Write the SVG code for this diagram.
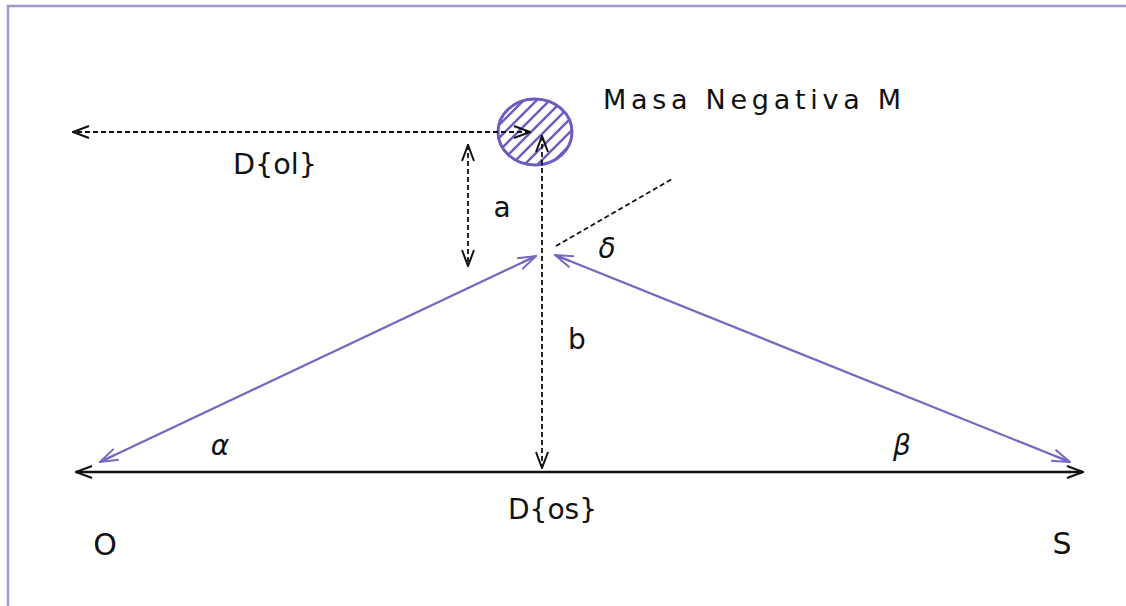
<svg xmlns="http://www.w3.org/2000/svg" width="1126" height="606" viewBox="0 0 1126 606">
  <style>
    .lbl { font-family: "DejaVu Sans", "Liberation Sans", sans-serif; fill: #111; }
    .dash { stroke: #111; stroke-width: 1.8; stroke-dasharray: 5 3; fill: none; }
    .solid { stroke: #111; stroke-width: 2.4; fill: none; }
    .purple { stroke: #7468c0; stroke-width: 2.2; fill: none; }
  </style>
  <defs>
    <marker id="ah" viewBox="0 0 18 14" refX="17" refY="7" markerWidth="18" markerHeight="14" markerUnits="userSpaceOnUse" orient="auto-start-reverse">
      <path d="M1,1 L17,7 L1,13" fill="none" stroke="#111" stroke-width="2"/>
    </marker>
    <marker id="ahp" viewBox="0 0 20 14" refX="19" refY="7" markerWidth="20" markerHeight="14" markerUnits="userSpaceOnUse" orient="auto-start-reverse">
      <path d="M1,1 L19,7 L1,13 M3,7 L19,7" fill="none" stroke="#7468c0" stroke-width="2"/>
    </marker>
    <pattern id="hatch" patternUnits="userSpaceOnUse" width="13" height="13">
      <path d="M0,13 L13,0 M-3,3 L3,-3 M10,16 L16,10" stroke="#6c5cbf" stroke-width="2.4"/>
    </pattern>
  </defs>

  <!-- frame -->
  <path d="M8,606 L8,6 L1126,6" fill="none" stroke="#9d9acb" stroke-width="2.5"/>

  <g id="mass">
    <ellipse cx="535" cy="132" rx="37" ry="33" fill="url(#hatch)" stroke="#6c5cbf" stroke-width="3"/>
    <text class="lbl" x="603" y="109" font-size="27" textLength="298" lengthAdjust="spacing">Masa Negativa M</text>
  </g>

  <g id="connectors">
    <!-- D{ol} -->
    <line class="dash" x1="530" y1="132" x2="73" y2="132" marker-start="url(#ah)" marker-end="url(#ah)"/>
    <!-- a -->
    <line class="dash" x1="468" y1="145" x2="468" y2="266" marker-start="url(#ah)" marker-end="url(#ah)"/>
    <!-- b -->
    <line class="dash" x1="542" y1="136" x2="542" y2="468" marker-start="url(#ah)" marker-end="url(#ah)"/>
    <!-- delta reference -->
    <line class="dash" x1="556" y1="246" x2="672" y2="179"/>
    <!-- purple rays -->
    <line class="purple" x1="100" y1="462" x2="536" y2="256" marker-start="url(#ahp)" marker-end="url(#ahp)"/>
    <line class="purple" x1="555" y1="255" x2="1070" y2="462" marker-start="url(#ahp)" marker-end="url(#ahp)"/>
    <!-- D{os} -->
    <line class="solid" x1="76" y1="472" x2="1083" y2="472" marker-start="url(#ah)" marker-end="url(#ah)"/>
  </g>

  <g id="labels">
    <text class="lbl" x="233" y="174" font-size="28" textLength="84" lengthAdjust="spacingAndGlyphs">D{ol}</text>
    <text class="lbl" x="502" y="217" font-size="28" text-anchor="middle">a</text>
    <text class="lbl" x="577" y="349" font-size="28" text-anchor="middle">b</text>
    <text class="lbl" x="607" y="258" font-size="28" text-anchor="middle" font-style="italic">δ</text>
    <text class="lbl" x="220" y="455" font-size="28" text-anchor="middle" font-style="italic">α</text>
    <text class="lbl" x="902" y="455" font-size="28" text-anchor="middle" font-style="italic">β</text>
    <text class="lbl" x="508" y="519" font-size="29" textLength="89" lengthAdjust="spacingAndGlyphs">D{os}</text>
    <text class="lbl" x="105" y="555" font-size="30" text-anchor="middle">O</text>
    <text class="lbl" x="1062" y="554" font-size="30" text-anchor="middle">S</text>
  </g>
</svg>
